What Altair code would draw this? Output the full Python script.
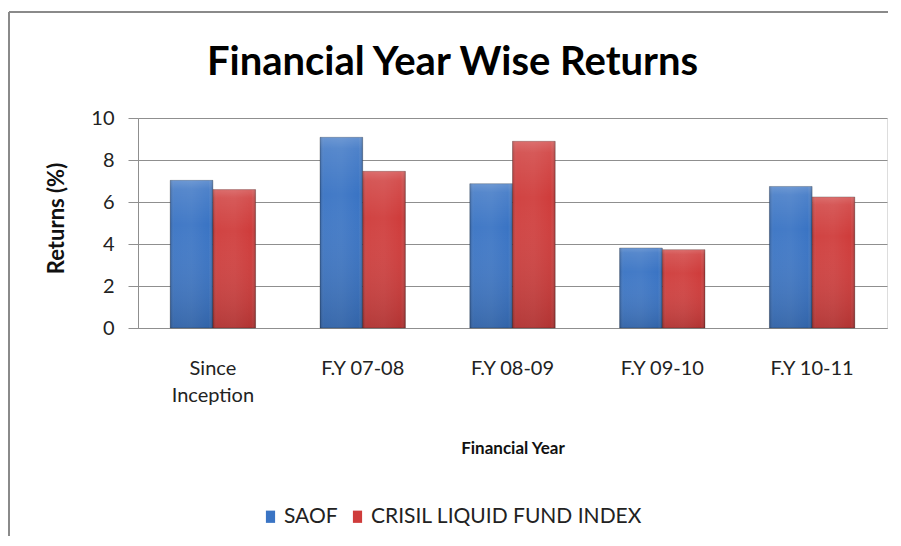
import altair as alt
import pandas as pd

categories = ["Since Inception", "F.Y 07-08", "F.Y 08-09", "F.Y 09-10", "F.Y 10-11"]
series = ["SAOF", "CRISIL LIQUID FUND INDEX"]
saof = [7.03, 9.08, 6.87, 3.81, 6.74]
crisil = [6.59, 7.46, 8.89, 3.73, 6.24]
colors = ["#3a74c4", "#cf3c3b"]
y_ticks = [0, 2, 4, 6, 8, 10]

rows = []
for c, a, b in zip(categories, saof, crisil):
    rows.append({"category": c, "series": series[0], "value": a})
    rows.append({"category": c, "series": series[1], "value": b})
df = pd.DataFrame(rows)

FONT = "Lato"
GRID = "#8f8f8f"

x_enc = alt.X(
    "category:N",
    sort=categories,
    scale=alt.Scale(paddingInner=0.43, paddingOuter=0.215),
    axis=alt.Axis(
        title="Financial Year",
        labelAngle=0,
        labelFont=FONT,
        labelFontSize=20,
        labelColor="#222222",
        labelPadding=30,
        labelBaseline="top",
        labelLineHeight=27,
        labelExpr="datum.value == 'Since Inception' ? ['Since', 'Inception'] : datum.label",
        ticks=False,
        domainColor=GRID,
        grid=False,
        titleFont=FONT,
        titleFontSize=17,
        titleFontWeight="bold",
        titleColor="#111111",
        titleY=120,
        titleBaseline="middle",
    ),
)
xo_enc = alt.XOffset("series:N", sort=series)
y_enc = alt.Y(
    "value:Q",
    scale=alt.Scale(domain=[0, 10]),
    axis=alt.Axis(
        values=y_ticks,
        title="Returns (%)",
        labelFont=FONT,
        labelFontSize=20,
        labelColor="#222222",
        labelPadding=14,
        tickSize=10,
        tickColor=GRID,
        domainColor=GRID,
        gridColor=GRID,
        titleFont=FONT,
        titleFontSize=22,
        titleFontWeight="bold",
        titleColor="#111111",
        titleX=-82,
        titleY=100,
        titleBaseline="middle",
    ),
)

bars = alt.Chart(df).mark_bar(strokeWidth=0.8, stroke="#1a1a1a", strokeOpacity=0.35).encode(
    x=x_enc,
    xOffset=xo_enc,
    y=y_enc,
    color=alt.Color(
        "series:N",
        scale=alt.Scale(domain=series, range=colors),
        legend=alt.Legend(
            title=None,
            orient="none",
            direction="horizontal",
            legendX=122,
            legendY=388,
            symbolType="M-0.75,-1L0.75,-1L0.75,1L-0.75,1Z",
            symbolSize=150,
            symbolStrokeWidth=0,
            labelFont=FONT,
            labelFontSize=21,
            labelColor="#222222",
            labelLimit=0,
            labelOffset=3,
            columnPadding=9,
        ),
    ),
)

shade_h = alt.Chart(df).mark_bar(
    fill=alt.LinearGradient(
        gradient="linear", x1=0, y1=0, x2=1, y2=0,
        stops=[
            alt.GradientStop(offset=0, color="rgba(0,0,0,0.22)"),
            alt.GradientStop(offset=0.1, color="rgba(255,255,255,0.04)"),
            alt.GradientStop(offset=0.5, color="rgba(255,255,255,0.06)"),
            alt.GradientStop(offset=0.9, color="rgba(255,255,255,0.0)"),
            alt.GradientStop(offset=1, color="rgba(0,0,0,0.25)"),
        ],
    )
).encode(x=x_enc, xOffset=xo_enc, y=y_enc)

shade_v = alt.Chart(df).mark_bar(
    fill=alt.LinearGradient(
        gradient="linear", x1=0, y1=0, x2=0, y2=1,
        stops=[
            alt.GradientStop(offset=0, color="rgba(255,255,255,0.22)"),
            alt.GradientStop(offset=0.06, color="rgba(255,255,255,0.1)"),
            alt.GradientStop(offset=0.3, color="rgba(255,255,255,0.0)"),
            alt.GradientStop(offset=1, color="rgba(0,0,0,0.14)"),
        ],
    )
).encode(x=x_enc, xOffset=xo_enc, y=y_enc)

frame_top = alt.Chart(pd.DataFrame({"k": [0]})).mark_rule(color="#8a8a8a", strokeWidth=2).encode(
    x=alt.value(-129), x2=alt.value(750), y=alt.value(-106)
)
frame_left = alt.Chart(pd.DataFrame({"k": [0]})).mark_rule(color="#8a8a8a", strokeWidth=2).encode(
    x=alt.value(-129), y=alt.value(-106), y2=alt.value(418)
)

chart = alt.layer(bars, shade_h, shade_v, frame_top, frame_left).properties(
    width=749,
    height=210,
    title=alt.TitleParams(
        "Financial Year Wise Returns",
        font=FONT,
        fontSize=40,
        fontWeight="bold",
        color="#000000",
        anchor="middle",
        frame="group",
        baseline="alphabetic",
        offset=0,
        dx=-60,
        dy=104,
    ),
    autosize=alt.AutoSizeParams(type="none"),
    padding={"left": 130, "top": 110, "right": 4, "bottom": 208},
).configure_view(stroke=None).configure(background="white")

chart.save("out.html", embed_options={"renderer": "svg", "actions": False})
